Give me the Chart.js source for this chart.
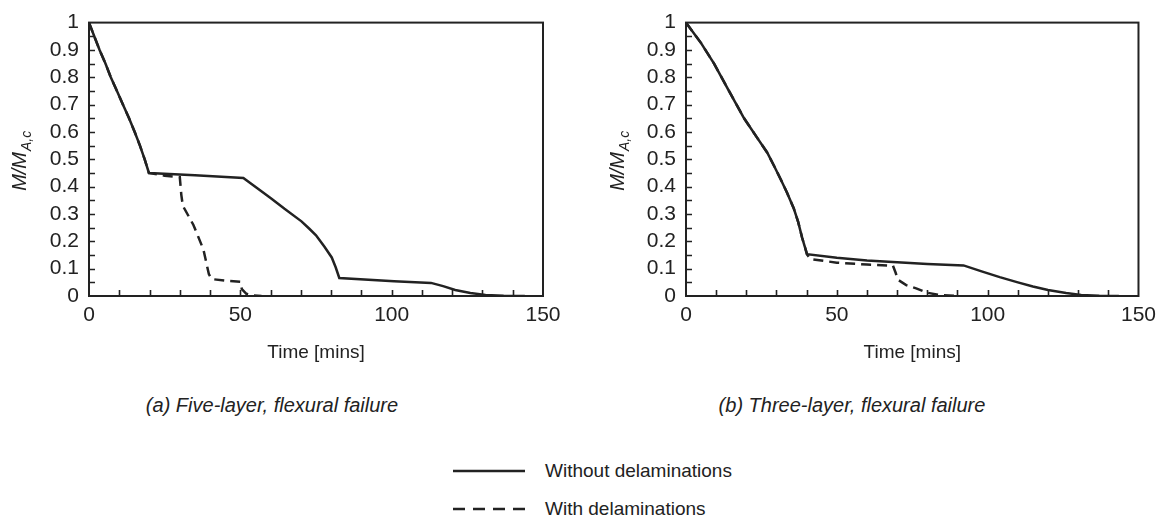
<!DOCTYPE html>
<html>
<head>
<meta charset="utf-8">
<title>Moment capacity vs time</title>
<script src="https://cdn.jsdelivr.net/npm/chart.js@4.4.1/dist/chart.umd.min.js"></script>
<style>
  body {
    margin: 0;
    width: 1163px;
    height: 524px;
    background: #fff;
    position: relative;
    overflow: hidden;
    font-family: "Liberation Sans", Arial, sans-serif;
    color: #222;
  }
  .panel { position: absolute; top: 0; }
  .caption {
    position: absolute;
    top: 393px;
    width: 400px;
    text-align: center;
    font-style: italic;
    font-size: 20px;
    line-height: 24px;
  }
  .legend-row {
    position: absolute;
    left: 453px;
    height: 24px;
    display: flex;
    align-items: center;
    font-size: 19px;
  }
  .legend-row svg { margin-right: 20px; }
</style>
</head>
<body>

<div class="panel" style="left:0px"><canvas id="chart-a" width="570" height="380"></canvas></div>
<div class="panel" style="left:598px"><canvas id="chart-b" width="565" height="380"></canvas></div>

<div class="caption" style="left:72px">(a) Five-layer, flexural failure</div>
<div class="caption" style="left:652px">(b) Three-layer, flexural failure</div>

<div class="legend-row" style="top:459px">
  <svg width="72" height="6"><line x1="0" y1="3" x2="72" y2="3" stroke="#222" stroke-width="2.5"/></svg>
  <span>Without delaminations</span>
</div>
<div class="legend-row" style="top:497px">
  <svg width="72" height="6"><line x1="0" y1="3" x2="72" y2="3" stroke="#222" stroke-width="2.5" stroke-dasharray="12 8"/></svg>
  <span>With delaminations</span>
</div>

<script>
// (a) Five-layer, flexural failure
const tA_without = [0, 1.7, 3.5, 5.4, 7.2, 9.2, 11.2, 13.2, 15.1, 16.8, 18.4, 19.8, 35, 51, 55.5, 60.2, 64.6, 70.2, 72.8, 75, 77.8, 80.2, 81.5, 82.7, 100.8, 113, 117, 121, 126, 131, 137, 144];
const mA_without = [1, 0.951, 0.90, 0.851, 0.80, 0.751, 0.70, 0.651, 0.60, 0.551, 0.50, 0.45, 0.442, 0.432, 0.395, 0.357, 0.319, 0.273, 0.246, 0.222, 0.180, 0.141, 0.105, 0.066, 0.054, 0.048, 0.036, 0.022, 0.011, 0.004, 0.001, 0];
const tA_with = [0, 1.7, 3.5, 5.4, 7.2, 9.2, 11.2, 13.2, 15.1, 16.8, 18.4, 19.8, 25, 30, 30.5, 31, 34.5, 37.8, 39.6, 40.5, 45, 50, 50.5, 52, 54, 57];
const mA_with = [1, 0.951, 0.90, 0.851, 0.80, 0.751, 0.70, 0.651, 0.60, 0.551, 0.50, 0.45, 0.44, 0.435, 0.37, 0.33, 0.26, 0.17, 0.08, 0.062, 0.056, 0.052, 0.025, 0.008, 0.002, 0];

// (b) Three-layer, flexural failure
const tB_without = [0, 5, 9.3, 14, 19.2, 20.3, 23.5, 26.9, 29, 31.3, 33.5, 35.7, 37.2, 38.5, 39.4, 40.1, 50, 60, 70, 80, 92, 98, 104, 110, 115, 120, 126, 131, 137, 143.5];
const mB_without = [1, 0.925, 0.85, 0.755, 0.651, 0.633, 0.58, 0.525, 0.48, 0.429, 0.378, 0.321, 0.27, 0.213, 0.18, 0.153, 0.14, 0.13, 0.123, 0.117, 0.112, 0.09, 0.069, 0.05, 0.035, 0.022, 0.011, 0.004, 0.001, 0];
const tB_with = [0, 5, 9.3, 14, 19.2, 20.3, 23.5, 26.9, 29, 31.3, 33.5, 35.7, 37.2, 38.5, 39.4, 40.1, 41.2, 50, 60, 68.6, 69.5, 70.2, 73, 76.3, 80, 84, 90.6];
const mB_with = [1, 0.925, 0.85, 0.755, 0.651, 0.633, 0.58, 0.525, 0.48, 0.429, 0.378, 0.321, 0.27, 0.213, 0.18, 0.153, 0.135, 0.122, 0.115, 0.111, 0.085, 0.06, 0.04, 0.028, 0.012, 0.004, 0];

// axis ticks
const xLabelStep = 50;
const xMinorStep = 10;
const yLabelStep = 0.1;
const yMinorStep = 0.05;

const INK = '#222';
const FONT = '"Liberation Sans", Arial, sans-serif';


function points(t, m) {
  return t.map((x, i) => ({ x: x, y: m[i] }));
}


// box round the plot, inward tick marks and the M/M_A,c title
const framePlugin = {
  id: 'frame',
  afterDatasetsDraw(chart) {
    const { ctx, chartArea: a, scales: { x, y } } = chart;
    ctx.save();
    ctx.strokeStyle = INK;
    ctx.lineWidth = 2;
    ctx.strokeRect(a.left, a.top, a.right - a.left, a.bottom - a.top);

    ctx.lineWidth = 1.6;
    ctx.beginPath();
    for (let t = xMinorStep; t < x.max; t += xMinorStep) {
      const px = Math.round(x.getPixelForValue(t)) + 0.5;
      ctx.moveTo(px, a.bottom);
      ctx.lineTo(px, a.bottom - 6);
    }
    for (let k = 1; k * yMinorStep < y.max - 1e-9; k++) {
      const py = Math.round(y.getPixelForValue(k * yMinorStep)) + 0.5;
      ctx.moveTo(a.left, py);
      ctx.lineTo(a.left + 6, py);
    }
    ctx.stroke();

    // y title with a subscript
    const main = 'M/M', sub = 'A,c';
    ctx.fillStyle = INK;
    ctx.textBaseline = 'middle';
    ctx.font = 'italic 20px ' + FONT;
    const w1 = ctx.measureText(main).width;
    ctx.font = 'italic 14px ' + FONT;
    const w2 = ctx.measureText(sub).width;
    ctx.translate(20, (a.top + a.bottom) / 2 + 2);
    ctx.rotate(-Math.PI / 2);
    const x0 = -(w1 + w2) / 2;
    ctx.font = 'italic 20px ' + FONT;
    ctx.fillText(main, x0, 0);
    ctx.font = 'italic 14px ' + FONT;
    ctx.fillText(sub, x0 + w1 + 1, 7);
    ctx.restore();
  }
};


function drawPanel(canvasId, yWidth, rightPad, withoutPts, withPts) {
  const ctx = document.getElementById(canvasId);
  return new Chart(ctx, {
    type: 'line',
    data: {
      datasets: [{
        label: 'Without delaminations',
        data: withoutPts,
        borderColor: INK,
        borderWidth: 2.5,
        pointRadius: 0,
        tension: 0,
        order: 1
      }, {
        label: 'With delaminations',
        data: withPts,
        borderColor: INK,
        borderWidth: 2.5,
        borderDash: [10, 6],
        pointRadius: 0,
        tension: 0,
        order: 2
      }]
    },
    options: {
      responsive: false,
      animation: false,
      layout: { padding: { top: 18, right: rightPad, left: 0, bottom: 0 } },
      plugins: {
        legend: { display: false },
        tooltip: { enabled: false }
      },
      scales: {
        x: {
          type: 'linear',
          min: 0,
          max: 150,
          grid: { display: false, drawTicks: false },
          border: { display: false },
          ticks: {
            stepSize: xLabelStep,
            autoSkip: false,
            maxRotation: 0,
            padding: 7,
            color: INK,
            font: { family: FONT, size: 21 }
          },
          title: {
            display: true,
            text: 'Time [mins]',
            color: INK,
            font: { family: FONT, size: 19 },
            padding: { top: 0, bottom: 16 }
          },
          afterFit(scale) { scale.height = 84; }
        },
        y: {
          type: 'linear',
          min: 0,
          max: 1,
          grid: { display: false, drawTicks: false },
          border: { display: false },
          ticks: {
            stepSize: yLabelStep,
            autoSkip: false,
            padding: 10,
            color: INK,
            font: { family: FONT, size: 21 },
            callback: (v) => String(parseFloat(v.toFixed(1)))
          },
          afterFit(scale) { scale.width = yWidth; }
        }
      }
    },
    plugins: [framePlugin]
  });
}


drawPanel('chart-a', 89, 27, points(tA_without, mA_without), points(tA_with, mA_with));
drawPanel('chart-b', 88, 23, points(tB_without, mB_without), points(tB_with, mB_with));
</script>
</body>
</html>
